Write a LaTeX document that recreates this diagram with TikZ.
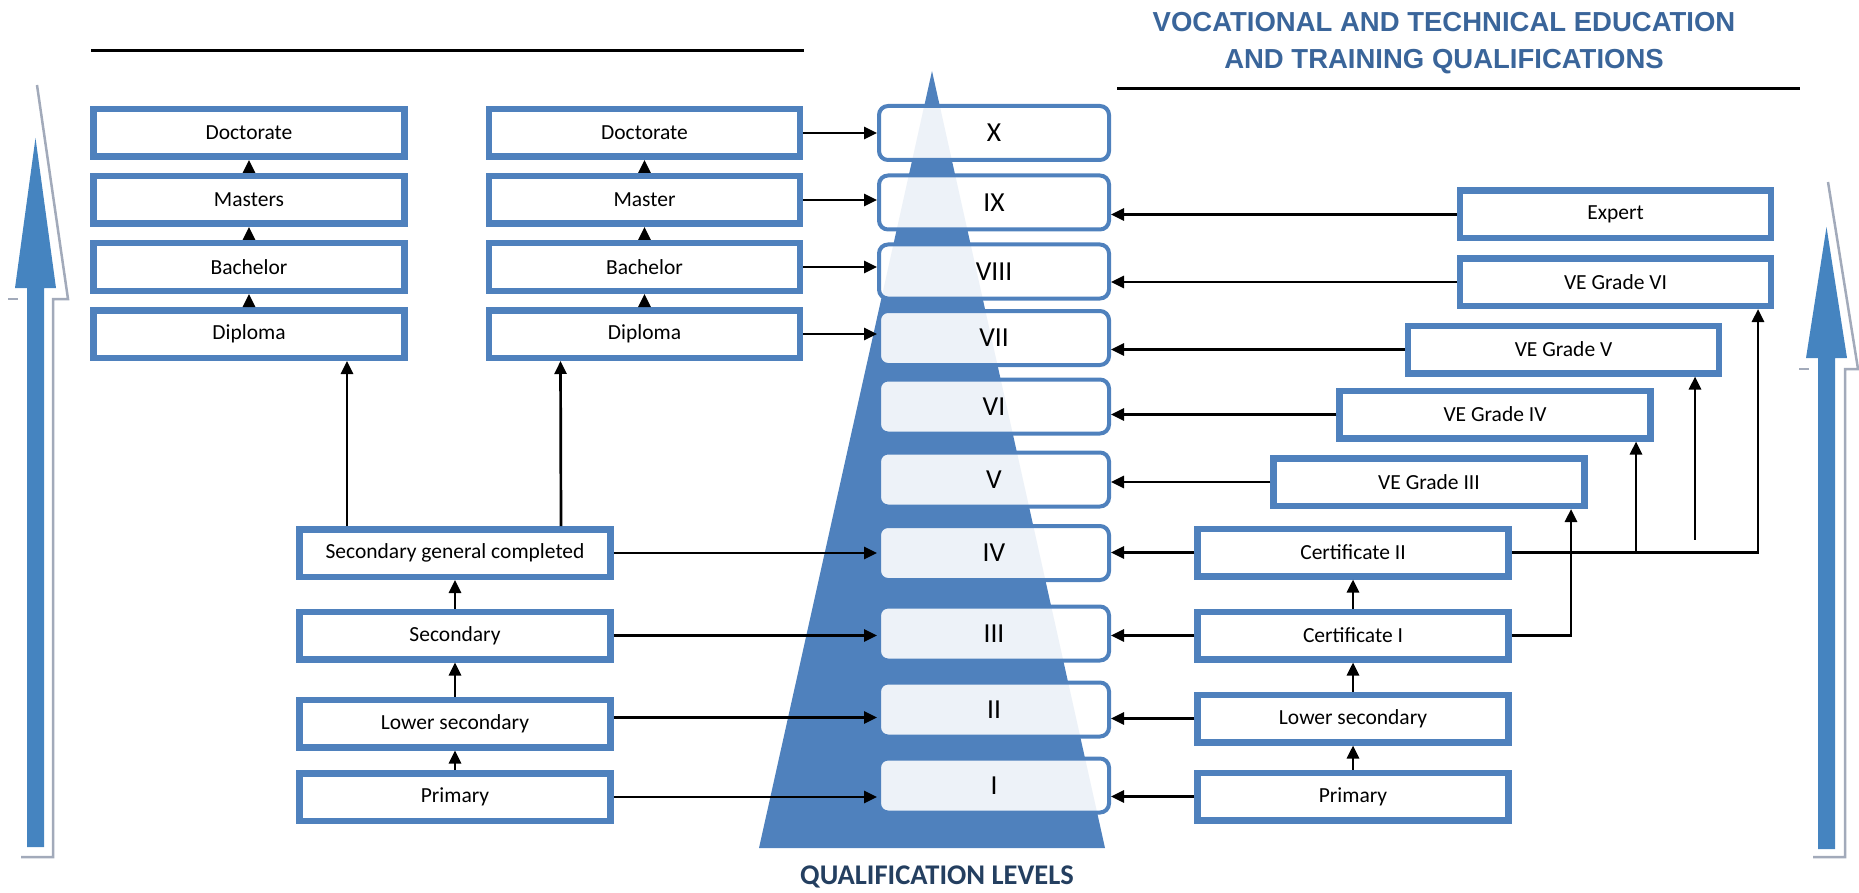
\documentclass[tikz,border=0pt]{standalone}
\usepackage{fontspec}
\setmainfont{Carlito}
\newfontfamily\headfont{Liberation Sans}
\usetikzlibrary{arrows.meta,positioning}
\definecolor{boxblue}{HTML}{4F81BD}
\definecolor{arrowblue}{HTML}{4584C0}
\definecolor{shadowgrey}{HTML}{A2AABA}
\definecolor{headblue}{HTML}{3A659A}
\definecolor{darkblue}{HTML}{243F60}

\begin{document}
\begin{tikzpicture}[x=1pt,y=-1pt,node distance=13pt and 78pt,
  qbox/.style={draw=boxblue,line width=6.5pt,fill=white,minimum width=311pt,minimum height=47.5pt,inner sep=0pt,font=\fontsize{21.5}{24}\selectfont},
  lvbox/.style={draw=boxblue,line width=4pt,fill=white,fill opacity=0.9,text opacity=1,rounded corners=9pt,minimum width=230pt,minimum height=54pt,inner sep=0pt,font=\fontsize{27.5}{30}\selectfont},
  link/.style={-{Triangle[length=13pt,width=12pt]},line width=2.7pt},
  hrule/.style={line width=3pt},
  greyline/.style={draw=shadowgrey,line width=2.5pt}]
\useasboundingbox (0,0) rectangle (1859,893);

% pyramid and the two big arrows
\fill[boxblue] (932,71) -- (1105,848) -- (759,848) -- cycle;
\fill[arrowblue] (35.5,138) -- (56,288) -- (44,288) -- (44,847) -- (27,847) -- (27,288) -- (15,288) -- cycle;
\path[greyline] (37,85) -- (68,299) -- (53,299) -- (53,857) -- (21,857);
\path[greyline] (8,299) -- (18,299);
\fill[arrowblue] (1826.5,227) -- (1847,358) -- (1835,358) -- (1835,849) -- (1818,849) -- (1818,358) -- (1806,358) -- cycle;
\path[greyline] (1828,182) -- (1858,369) -- (1845,369) -- (1845,857) -- (1813,857);
\path[greyline] (1799,369) -- (1809,369);

% headings
\draw[hrule] (91,51) -- (804,51);
\draw[hrule] (1117,89) -- (1800,89);
\node[font=\headfont\bfseries\fontsize{27.5}{37}\selectfont,text=headblue,align=center] (title) at (1444,43) {VOCATIONAL AND TECHNICAL EDUCATION\\AND TRAINING QUALIFICATIONS};
\node[font=\bfseries\fontsize{28.5}{30}\selectfont,text=darkblue] (qlevels) at (937,877) {QUALIFICATION LEVELS};

% qualification levels
\node[lvbox] (lvX) at (994,133) {X};
\node[lvbox] (lvIX) at (994,202.5) {IX};
\node[lvbox] (lvVIII) at (994,271.5) {VIII};
\node[lvbox] (lvVII) at (994,338) {VII};
\node[lvbox] (lvVI) at (994,406.5) {VI};
\node[lvbox] (lvV) at (994,479.5) {V};
\node[lvbox] (lvIV) at (994,553) {IV};
\node[lvbox] (lvIII) at (994,633.5) {III};
\node[lvbox] (lvII) at (994,709.5) {II};
\node[lvbox] (lvI) at (994,785.5) {I};

% higher education
\node[qbox] (doc1) at (249,133) {Doctorate};
\node[qbox,below=of doc1] (mas1) {Masters};
\node[qbox,below=of mas1] (bac1) {Bachelor};
\node[qbox,below=of bac1] (dip1) {Diploma};
\node[qbox,right=of doc1] (doc2) {Doctorate};
\node[qbox,right=of mas1] (mas2) {Master};
\node[qbox,right=of bac1] (bac2) {Bachelor};
\node[qbox,right=of dip1] (dip2) {Diploma};

% general education
\node[qbox] (secgen) at (455,553) {Secondary general completed};
\node[qbox] (sec) at (455,635.5) {Secondary};
\node[qbox] (lowsec) at (455,723.5) {Lower secondary};
\node[qbox] (prim) at (455,797) {Primary};

% vocational education
\node[qbox] (expert) at (1615.5,214.5) {Expert};
\node[qbox] (ve6) at (1615.5,282) {VE Grade VI};
\node[qbox] (ve5) at (1563.5,349.5) {VE Grade V};
\node[qbox] (ve4) at (1495,414.5) {VE Grade IV};
\node[qbox] (ve3) at (1429,482) {VE Grade III};
\node[qbox] (cert2) at (1353,552.5) {Certificate II};
\node[qbox] (cert1) at (1353,635.5) {Certificate I};
\node[qbox] (lowsecR) at (1353,718.5) {Lower secondary};
\node[qbox] (primR) at (1353,796.5) {Primary};

% steps inside the columns
\draw[link] (mas1) -- (doc1);
\draw[link] (bac1) -- (mas1);
\draw[link] (dip1) -- (bac1);
\draw[link] (mas2) -- (doc2);
\draw[link] (bac2) -- (mas2);
\draw[link] (dip2) -- (bac2);
\draw[link] (prim) -- (lowsec);
\draw[link] (lowsec) -- (sec);
\draw[link] (sec) -- (secgen);
\draw[link] ([xshift=-108pt]secgen.north) -- ([xshift=98pt]dip1.south);
\draw[link] ([xshift=106pt]secgen.north) -- ([xshift=-84pt]dip2.south);
\draw[link] (primR) -- (lowsecR);
\draw[link] (lowsecR) -- (cert1);
\draw[link] (cert1) -- (cert2);
\draw[link] (cert1.east) -| ([xshift=142pt]ve3.south);
\draw[link] (cert2.east) -| ([xshift=142.5pt]ve6.south);
\path ([xshift=141pt]ve4.south) coordinate (tip4);
\path ([xshift=131.5pt]ve5.south) coordinate (tip5);
\coordinate (foot4) at (tip4 |- cert2.east);
\coordinate (foot5) at (tip5 |- cert2.east);
\draw[link] (foot4) -- (tip4);
\draw[link] ([yshift=13pt]foot5) -- (tip5);

% into the levels, left side
\draw[link] (doc2.east) -- (doc2.east -| lvX.west);
\draw[link] (mas2.east) -- (mas2.east -| lvIX.west);
\draw[link] (bac2.east) -- (bac2.east -| lvVIII.west);
\draw[link] (dip2.east) -- (dip2.east -| lvVII.west);
\draw[link] (secgen.east) -- (secgen.east -| lvIV.west);
\draw[link] (sec.east) -- (sec.east -| lvIII.west);
\draw[link] ([yshift=6pt]lowsec.east) -- ([yshift=6pt]lowsec.east -| lvII.west);
\draw[link] (prim.east) -- (prim.east -| lvI.west);

% into the levels, right side
\draw[link] (expert.west) -- (expert.west -| lvIX.east);
\draw[link] (ve6.west) -- (ve6.west -| lvVIII.east);
\draw[link] (ve5.west) -- (ve5.west -| lvVII.east);
\draw[link] (ve4.west) -- (ve4.west -| lvVI.east);
\draw[link] (ve3.west) -- (ve3.west -| lvV.east);
\draw[link] (cert2.west) -- (cert2.west -| lvIV.east);
\draw[link] (cert1.west) -- (cert1.west -| lvIII.east);
\draw[link] (lowsecR.west) -- (lowsecR.west -| lvII.east);
\draw[link] (primR.west) -- (primR.west -| lvI.east);
\end{tikzpicture}
\end{document}
